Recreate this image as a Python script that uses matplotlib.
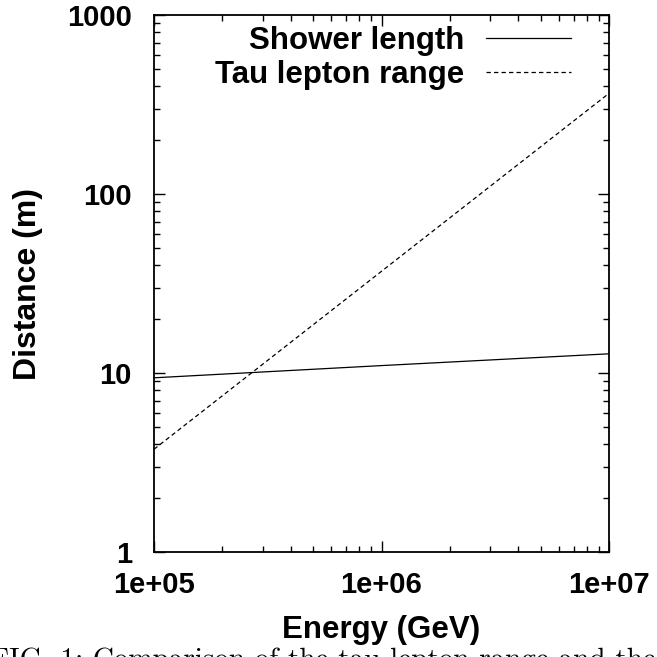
import numpy as np
import matplotlib.pyplot as plt
from matplotlib.ticker import LogLocator, FixedLocator, FixedFormatter, NullFormatter

# Data
energy = np.array([1e5, 1e6, 1e7])            # GeV
shower_length = np.array([9.4, 11.0, 12.8])    # m
tau_range = np.array([3.75, 37.0, 365.0])      # m

x_ticks = [1e5, 1e6, 1e7]
x_labels = ['1e+05', '1e+06', '1e+07']
y_ticks = [1, 10, 100, 1000]
y_labels = ['1', '10', '100', '1000']

plt.rcParams['font.family'] = ['Liberation Sans', 'DejaVu Sans']
plt.rcParams['font.weight'] = 'bold'

fig = plt.figure(figsize=(6.57, 6.57), dpi=100)
ax = fig.add_axes([154/657, 1 - 552/657, (609-154)/657, (552-15)/657])

ax.plot(energy, shower_length, '-', color='black', lw=0.9, label='Shower length')
ax.plot(energy, tau_range, '--', color='black', lw=0.9, dashes=(3.5, 2.5), label='Tau lepton range')

ax.set_xscale('log')
ax.set_yscale('log')
ax.set_xlim(1e5, 1e7)
ax.set_ylim(1, 1000)

ax.xaxis.set_major_locator(FixedLocator(x_ticks))
ax.xaxis.set_major_formatter(FixedFormatter(x_labels))
ax.yaxis.set_major_locator(FixedLocator(y_ticks))
ax.yaxis.set_major_formatter(FixedFormatter(y_labels))
ax.xaxis.set_minor_locator(LogLocator(base=10, subs=np.arange(2, 10)))
ax.yaxis.set_minor_locator(LogLocator(base=10, subs=np.arange(2, 10)))
ax.xaxis.set_minor_formatter(NullFormatter())
ax.yaxis.set_minor_formatter(NullFormatter())

ax.tick_params(which='both', direction='in', top=True, right=True, labelsize=21)
ax.tick_params(which='major', length=8, width=1.0)
ax.tick_params(which='minor', length=4.5, width=1.0)
ax.tick_params(axis='x', pad=14)
ax.tick_params(axis='y', pad=16)
for s in ax.spines.values():
    s.set_linewidth(1.3)

ax.set_xlabel('Energy (GeV)', fontsize=22.5, fontweight='bold', labelpad=11)
ax.set_ylabel('Distance (m)', fontsize=23, fontweight='bold', labelpad=17)

leg = ax.legend(loc='upper right', frameon=False, fontsize=22.5, markerfirst=False,
                handlelength=2.7, handletextpad=0.72, borderaxespad=0.0,
                borderpad=0.35, labelspacing=0.12, bbox_to_anchor=(0.94, 1.0))
for t in leg.get_texts():
    t.set_fontweight('bold')

# cut-off figure caption below the plot
fig.text(-0.015, -0.016, 'FIG. 1: Comparison of the tau lepton range and the',
         fontsize=21, family='cmr10', fontweight='normal', va='baseline', ha='left')

fig.savefig('out.png', dpi=100)
